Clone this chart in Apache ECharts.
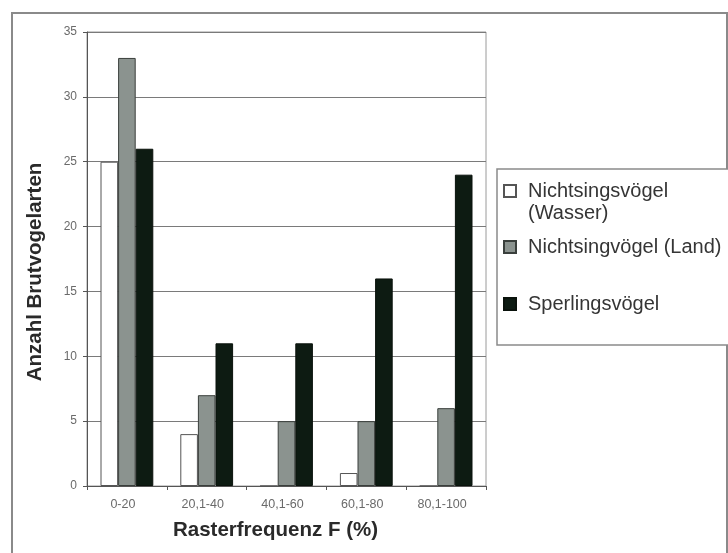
<!DOCTYPE html>
<html>
<head>
<meta charset="utf-8">
<script src="https://cdn.jsdelivr.net/npm/echarts@6/dist/echarts.min.js"></script>
<style>
html,body{margin:0;padding:0;background:#fff;}
#chart{width:728px;height:553px;}
</style>
</head>
<body>
<div id="chart"></div>
<script>
const categories = ['0-20', '20,1-40', '40,1-60', '60,1-80', '80,1-100'];
const seriesNames = ['Nichtsingsvögel (Wasser)', 'Nichtsingvögel (Land)', 'Sperlingsvögel'];
const wasser = [25, 4, 0, 1, 0];
const land = [33, 7, 5, 5, 6];
const sperling = [26, 11, 11, 16, 24];
const yTicks = [0, 5, 10, 15, 20, 25, 30, 35];

const FONT = "'Liberation Sans', Arial, sans-serif";
const colors = ['#ffffff', '#8b938f', '#0d1b12'];
const borders = ['#555555', '#3a3f3c', '#0a120c'];

const chart = echarts.init(document.getElementById('chart'), null, {renderer: 'canvas'});

function legendFor(name, top, extra) {
  return Object.assign({
    show: true,
    orient: 'vertical',
    left: 503,
    top: top,
    padding: 0,
    icon: 'rect',
    itemWidth: 12,
    itemHeight: 12,
    selectedMode: false,
    data: [name],
    textStyle: {fontFamily: FONT, fontSize: 20, color: '#353535', lineHeight: 22, padding: [0, 0, 0, 7]}
  }, extra || {});
}

const option = {
  backgroundColor: '#fff',
  animation: false,
  textStyle: {fontFamily: FONT},
  graphic: [
    {type: 'rect', shape: {x: 12, y: 13, width: 715, height: 560}, style: {fill: 'none', stroke: '#8a8a8a', lineWidth: 2}, silent: true, z: -1},
    {type: 'rect', shape: {x: 497, y: 169, width: 260, height: 176}, style: {fill: '#fff', stroke: '#8a8a8a', lineWidth: 1.5}, silent: true, z: -1}
  ],
  legend: [
    legendFor(seriesNames[0], 158, {
      formatter: function () { return '\nNichtsingsvögel\n(Wasser)'; }
    }),
    legendFor(seriesNames[1], 236),
    legendFor(seriesNames[2], 293)
  ],
  grid: {
    left: 87, right: 242, top: 32, bottom: 67,
    show: true, borderColor: '#9a9a9a', borderWidth: 1, backgroundColor: 'transparent'
  },
  xAxis: {
    type: 'category',
    data: categories,
    name: 'Rasterfrequenz F (%)',
    nameLocation: 'middle',
    nameGap: 34,
    nameTextStyle: {fontFamily: FONT, fontSize: 20.5, fontWeight: 'bold', color: '#2a2a2a', padding: [0, 22, 0, 0]},
    axisLine: {show: true, lineStyle: {color: '#555', width: 1}},
    axisTick: {show: true, length: 4, lineStyle: {color: '#555'}},
    axisLabel: {fontFamily: FONT, fontSize: 12.5, color: '#6a6a6a', margin: 12, padding: [0, 8, 0, 0]}
  },
  yAxis: {
    type: 'value',
    min: 0, max: 35, interval: 5,
    name: 'Anzahl Brutvogelarten',
    nameLocation: 'middle',
    nameGap: 41,
    nameTextStyle: {fontFamily: FONT, fontSize: 20.5, fontWeight: 'bold', color: '#2a2a2a', padding: [0, 26, 0, 0]},
    axisLine: {show: true, lineStyle: {color: '#555', width: 1}},
    axisTick: {show: true, length: 4, lineStyle: {color: '#555'}},
    axisLabel: {fontFamily: FONT, fontSize: 12, color: '#6a6a6a', margin: 10,
      formatter: function (v) { return yTicks.indexOf(v) >= 0 ? String(v) : ''; }},
    splitLine: {show: true, lineStyle: {color: '#7a7a7a', width: 1}}
  },
  series: [wasser, land, sperling].map(function (d, i) {
    return {
      name: seriesNames[i],
      type: 'bar',
      data: d,
      barWidth: 17.6,
      barGap: '0%',
      itemStyle: {color: colors[i], borderColor: borders[i], borderWidth: 1}
    };
  })
};
chart.setOption(option);
</script>
</body>
</html>
